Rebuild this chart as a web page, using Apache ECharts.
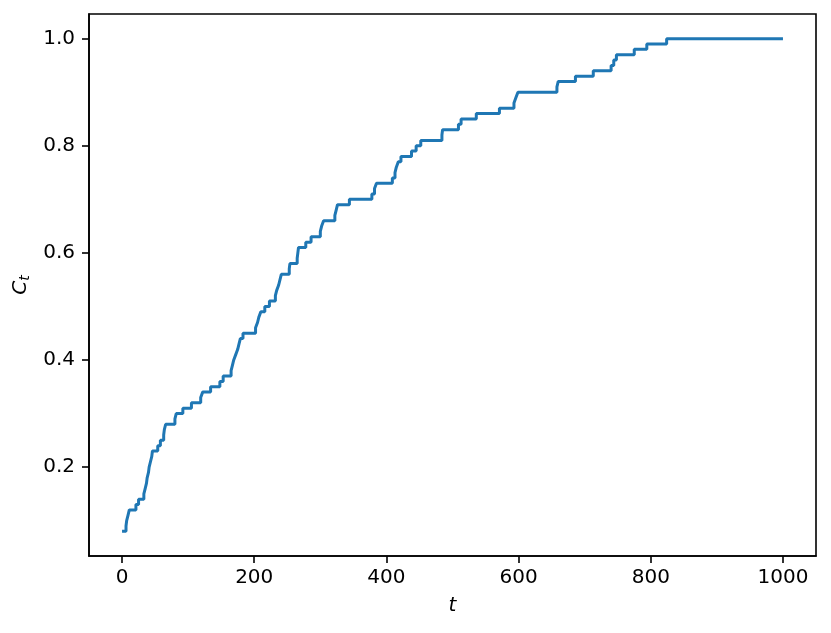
<!DOCTYPE html>
<html>
<head>
<meta charset="utf-8">
<script src="https://cdn.jsdelivr.net/npm/echarts@6/dist/echarts.min.js"></script>
<style>
  html, body { margin: 0; padding: 0; background: #fff; }
  #main { width: 831px; height: 633px; }
</style>
</head>
<body>
<div id="main"></div>
<script>
// time where C_t jumps, and the new value after the jump
var stepT = [0, 6, 7, 9, 11, 21, 25, 33, 35, 37, 38, 40, 41, 43, 45, 46, 54, 58, 63, 64, 66,
  80, 82, 92, 105, 119, 122, 134, 148, 153, 165, 167, 169, 172, 175, 177, 179, 183,
  202, 205, 207, 210, 216, 223, 232, 234, 237, 239, 241, 253, 254, 265, 266, 267, 278, 286,
  300, 302, 305, 322, 324, 326, 344, 378, 382, 385, 409, 413, 415, 418, 422, 438, 445, 452,
  484, 485, 509, 513, 536, 571, 593, 596, 599, 658, 660, 686, 713, 740, 744, 748, 775, 794, 824, 1000];
var stepC = [0.08, 0.09, 0.10, 0.11, 0.12, 0.13, 0.14, 0.15, 0.16, 0.17, 0.18, 0.19, 0.20, 0.21, 0.22, 0.23, 0.24, 0.25, 0.26, 0.27, 0.28,
  0.29, 0.30, 0.31, 0.32, 0.33, 0.34, 0.35, 0.36, 0.37, 0.38, 0.39, 0.40, 0.41, 0.42, 0.43, 0.44, 0.45,
  0.46, 0.47, 0.48, 0.49, 0.50, 0.51, 0.52, 0.53, 0.54, 0.55, 0.56, 0.57, 0.58, 0.59, 0.60, 0.61, 0.62, 0.63,
  0.64, 0.65, 0.66, 0.67, 0.68, 0.69, 0.70, 0.71, 0.72, 0.73, 0.74, 0.75, 0.76, 0.77, 0.78, 0.79, 0.80, 0.81,
  0.82, 0.83, 0.84, 0.85, 0.86, 0.87, 0.88, 0.89, 0.90, 0.91, 0.92, 0.93, 0.94, 0.95, 0.96, 0.97, 0.98, 0.99, 1.00, 1.00];
var xTicks = [0, 200, 400, 600, 800, 1000];
var yTicks = [0.2, 0.4, 0.6, 0.8, 1.0];

var lineData = [];
for (var i = 0; i < stepT.length; i++) {
  lineData.push([stepT[i], stepC[i]]);
}

var myChart = echarts.init(document.getElementById('main'), null, { renderer: 'canvas' });
var font = 'DejaVu Sans';
var option = {
  animation: false,
  backgroundColor: '#fff',
  grid: {
    left: 89, top: 14, width: 727, height: 542,
    show: true, borderColor: '#000', borderWidth: 1.6, backgroundColor: 'transparent'
  },
  xAxis: {
    type: 'value', min: -50, max: 1050,
    name: 't', nameLocation: 'middle', nameGap: 40,
    nameTextStyle: { fontFamily: font, fontSize: 20, fontStyle: 'italic', color: '#000' },
    axisLine: { show: true, onZero: false, lineStyle: { color: '#000', width: 1.6 } },
    axisTick: { show: true, length: 7, lineStyle: { color: '#000', width: 1.6 }, customValues: xTicks },
    axisLabel: {
      fontFamily: font, fontSize: 20, color: '#000', margin: 12, customValues: xTicks,
      formatter: function (v) { return String(v); }
    },
    splitLine: { show: false }
  },
  yAxis: {
    type: 'value', min: 0.034, max: 1.046,
    name: '{c|C}{s|t}', nameLocation: 'middle', nameGap: 54,
    nameTextStyle: {
      color: '#000',
      rich: {
        c: { fontFamily: font, fontSize: 20, fontStyle: 'italic', color: '#000' },
        s: { fontFamily: font, fontSize: 14, fontStyle: 'italic', color: '#000', padding: [8, 0, 0, 0] }
      }
    },
    axisLine: { show: true, onZero: false, lineStyle: { color: '#000', width: 1.6 } },
    axisTick: { show: true, length: 7, lineStyle: { color: '#000', width: 1.6 }, customValues: yTicks },
    axisLabel: {
      fontFamily: font, fontSize: 20, color: '#000', margin: 14, customValues: yTicks,
      formatter: function (v) { return v.toFixed(1); }
    },
    splitLine: { show: false }
  },
  series: [{
    type: 'line',
    step: 'end',
    data: lineData,
    showSymbol: false,
    lineStyle: { color: '#1f77b4', width: 3 },
    silent: true
  }]
};
myChart.setOption(option);
</script>
</body>
</html>
